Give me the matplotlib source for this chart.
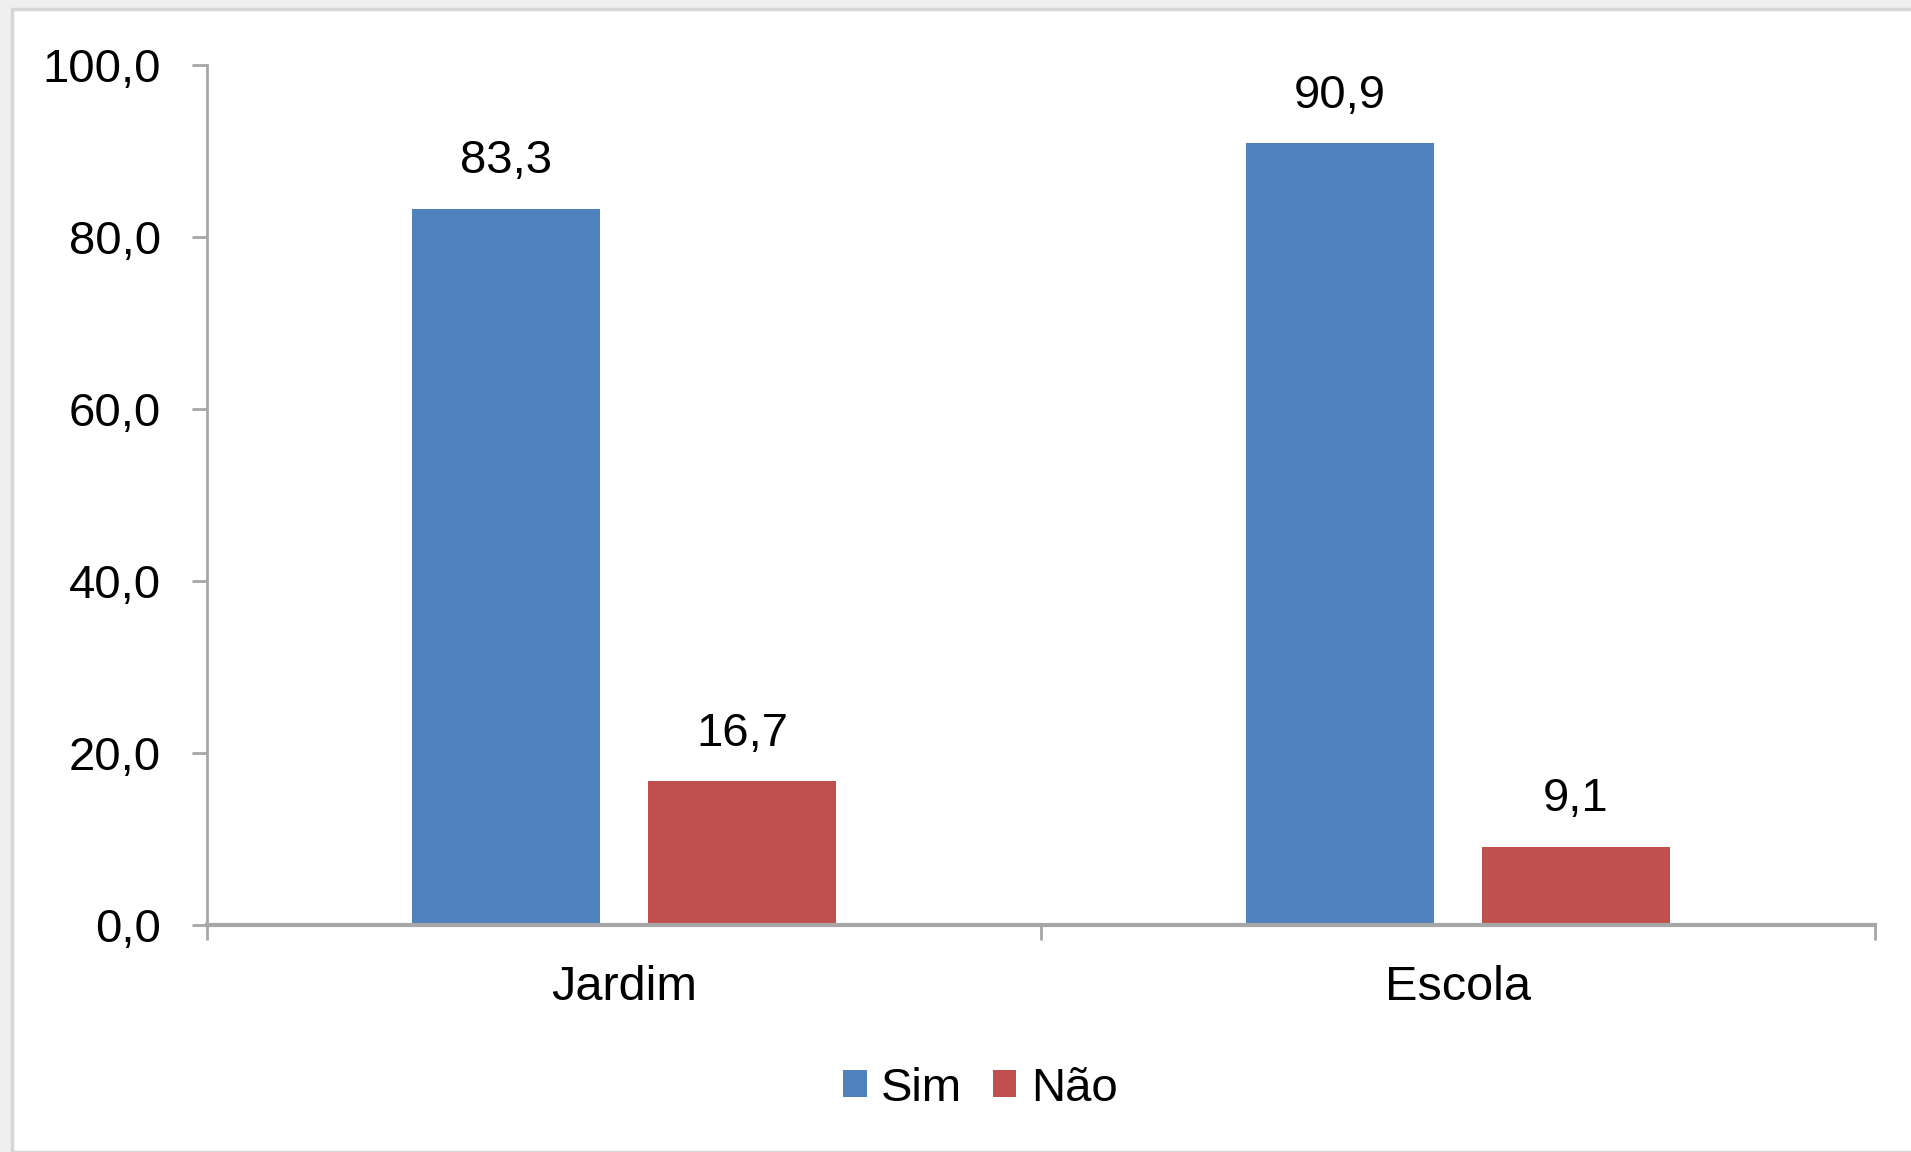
import matplotlib
matplotlib.use("Agg")
import matplotlib.pyplot as plt
from matplotlib.patches import Rectangle, Patch
import numpy as np

# Data
categories = ["Jardim", "Escola"]
series_names = ["Sim", "Não"]
sim_values = [83.3, 90.9]
nao_values = [16.7, 9.1]
y_ticks = [0, 20, 40, 60, 80, 100]

colors = {"Sim": "#4f81bd", "Não": "#c0504d"}
axis_gray = "#a6a6a6"

plt.rcParams["font.family"] = ["Liberation Sans", "DejaVu Sans"]
FS = 34

fig = plt.figure(figsize=(19.11, 11.52), dpi=100)
fig.patch.set_facecolor("#efefef")
# White chart panel with a thin border, kept behind the axes
fig.patches.append(Rectangle((12 / 1911, 0), 1.0, 1 - 9 / 1152,
                             transform=fig.transFigure, facecolor="white",
                             edgecolor="#d6d6d6", linewidth=2.5, zorder=-10))

ax = fig.add_axes([207 / 1911, 227 / 1152, (1875 - 207) / 1911, (925 - 65) / 1152])
ax.set_facecolor("none")
ax.set_zorder(1)

x = np.arange(len(categories)) + 0.5
width = 0.225
offset = 0.1415

bars_sim = ax.bar(x - offset, sim_values, width, color=colors["Sim"], label="Sim", zorder=2)
bars_nao = ax.bar(x + offset, nao_values, width, color=colors["Não"], label="Não", zorder=2)

def fmt(v):
    return f"{v:.1f}".replace(".", ",")

for bars, vals in ((bars_sim, sim_values), (bars_nao, nao_values)):
    for b, v in zip(bars, vals):
        ax.annotate(fmt(v), (b.get_x() + b.get_width() / 2, v),
                    xytext=(0, 18.5), textcoords="offset points",
                    ha="center", va="bottom", fontsize=FS, color="black")

ax.set_xlim(0, len(categories))
ax.set_ylim(0, 100)
ax.set_yticks(y_ticks)
ax.set_yticklabels([fmt(t) for t in y_ticks], fontsize=FS)

# Category boundaries as tick marks, labels at centers
ax.set_xticks(np.arange(len(categories) + 1))
ax.set_xticklabels([])
ax.set_xticks(x, minor=True)
ax.set_xticklabels(categories, minor=True, fontsize=35)
ax.tick_params(axis="x", which="minor", length=0, pad=29)
ax.tick_params(axis="x", which="major", length=11, width=2, color=axis_gray)
ax.tick_params(axis="y", length=11, width=2, color=axis_gray, pad=22)

for side in ("top", "right"):
    ax.spines[side].set_visible(False)
ax.spines["left"].set_color(axis_gray)
ax.spines["left"].set_linewidth(2)
ax.spines["bottom"].set_color(axis_gray)
ax.spines["bottom"].set_linewidth(3)
ax.spines["bottom"].set_zorder(3)

handles = [Patch(facecolor=colors[n], label=n) for n in series_names]
fig.legend(handles=handles, loc="center", bbox_to_anchor=(0.513, 0.055),
           ncol=2, frameon=False, fontsize=FS, handlelength=0.5,
           handleheight=0.5, handletextpad=0.3, columnspacing=0.65)

fig.savefig("out.png", dpi=100)
